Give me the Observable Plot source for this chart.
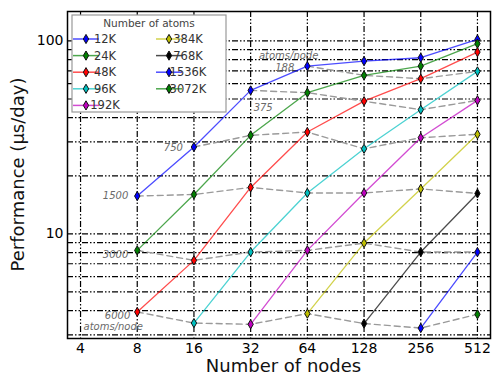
<!DOCTYPE html>
<html><head><meta charset="utf-8">
<script src="https://cdn.jsdelivr.net/npm/d3@7"></script>
<script src="https://cdn.jsdelivr.net/npm/@observablehq/plot@0.6"></script>
<style>body{margin:0;background:#fff;} svg{font-family:"DejaVu Sans",sans-serif;}</style>
</head><body><div id="chart"></div>
<script>
// ---- data ----
const nodeTicks = [4, 8, 16, 32, 64, 128, 256, 512];
const yTickLabels = [10, 100];
const yGrid = [3, 4, 5, 6, 7, 8, 9, 10, 20, 30, 40, 50, 60, 70, 80, 90, 100];
const atomLabels = ["12K", "24K", "48K", "96K", "192K", "384K", "768K", "1536K", "3072K"];
const atomCounts = [12000, 24000, 48000, 96000, 192000, 384000, 768000, 1536000, 3072000];
const firstNode = [8, 8, 8, 16, 32, 64, 128, 256, 512];
const colors = ["#0000ff", "#008000", "#ff0000", "#00bfbf", "#bf00bf", "#bfbf00", "#000000", "#0000ff", "#008000"];
const perf = [
  [15.7, 28.2, 55.4, 74.0, 78.6, 81.8, 101.8],
  [8.21, 16.0, 32.4, 53.9, 66.3, 74.0, 96.7],
  [3.94, 7.29, 17.4, 33.7, 48.7, 63.7, 87.5],
  [3.45, 8.05, 16.3, 27.6, 44.0, 69.5],
  [3.40, 8.21, 16.3, 31.5, 49.2],
  [3.86, 8.96, 17.1, 32.8],
  [3.43, 8.05, 16.2],
  [3.25, 8.05],
  [3.83]
];
const isoLevels = [188, 375, 750, 1500, 3000, 6000];

// ---- build table ----
const rows = [];
perf.forEach((vals, i) => vals.forEach((v, j) => {
  const n = firstNode[i] * 2 ** j;
  rows.push({series: atomLabels[i], color: colors[i], nodes: n, perf: v, apn: Math.round(atomCounts[i] / n)});
}));
const isoRows = rows.filter(d => isoLevels.includes(d.apn)).sort((a, b) => a.nodes - b.nodes);
const isoStart = isoLevels.map(l => isoRows.find(d => d.apn === l));
const lab = (l) => isoStart.filter(d => d.apn === l);

const W = 492, H = 379, mL = 67, mR = 2, mT = 11, mB = 41;
const gridStyle = {stroke: "black", strokeWidth: 1.2, strokeDasharray: "6,2,1.5,2,1.5,2"};
const isoText = {fill: "#6a6a6a", fontStyle: "italic", fontSize: 10};

const chart = Plot.plot({
  width: W, height: H,
  marginLeft: mL, marginRight: mR, marginTop: mT, marginBottom: mB,
  style: {fontFamily: "DejaVu Sans", background: "white"},
  x: {type: "log", base: 2, domain: [2 ** 1.77, 2 ** 9.23]},
  y: {type: "log", domain: [2.87, 142]},
  color: {type: "identity"},
  marks: [
    Plot.ruleY(yGrid, gridStyle),
    Plot.ruleX(nodeTicks, gridStyle),
    Plot.line(isoRows, {x: "nodes", y: "perf", z: "apn", stroke: "#9a9a9a", strokeWidth: 1.4, strokeDasharray: "6,4"}),
    Plot.line(rows, {x: "nodes", y: "perf", z: "series", stroke: "color", strokeOpacity: 0.7, strokeWidth: 1.3}),
    Plot.dot(rows, {x: "nodes", y: "perf", symbol: "diamond", r: 2.8, fill: "color", stroke: "#111", strokeWidth: 1}),
    Plot.text(lab(188), {x: "nodes", y: "perf", text: d => String(d.apn), textAnchor: "end", dx: -13, dy: 2, ...isoText}),
    Plot.text(lab(188), {x: "nodes", y: "perf", text: () => "atoms/node", textAnchor: "end", dx: 11, dy: -10, ...isoText}),
    Plot.text(lab(375), {x: "nodes", y: "perf", text: d => String(d.apn), textAnchor: "start", dx: 3, dy: 17, ...isoText}),
    Plot.text(lab(750), {x: "nodes", y: "perf", text: d => String(d.apn), textAnchor: "end", dx: -11, dy: 1, ...isoText}),
    Plot.text(lab(1500), {x: "nodes", y: "perf", text: d => String(d.apn), textAnchor: "end", dx: -9, dy: 0, ...isoText}),
    Plot.text(lab(3000), {x: "nodes", y: "perf", text: d => String(d.apn), textAnchor: "end", dx: -9, dy: 4, ...isoText}),
    Plot.text(lab(6000), {x: "nodes", y: "perf", text: d => String(d.apn), textAnchor: "end", dx: -7, dy: 4, ...isoText}),
    Plot.text(lab(6000), {x: "nodes", y: "perf", text: () => "atoms/node", textAnchor: "middle", dx: -24, dy: 15, ...isoText}),
    Plot.axisX(nodeTicks, {tickSize: 0, tickPadding: 5, fontSize: 14, tickFormat: d => String(d), label: null}),
    Plot.axisY(yTickLabels, {tickSize: 0, tickPadding: 4, fontSize: 14, tickFormat: d => String(d), label: null}),
    Plot.frame({stroke: "black", strokeWidth: 1.5})
  ]
});
document.getElementById("chart").appendChild(chart);

// ---- axis titles and legend ----
const svg = d3.select(chart);
svg.append("text").attr("x", mL + (W - mL - mR) / 2 + 5).attr("y", 372)
  .attr("text-anchor", "middle").attr("font-size", 18).attr("fill", "#111").text("Number of nodes");
svg.append("text").attr("transform", `translate(24,${mT + (H - mT - mB) / 2}) rotate(-90)`)
  .attr("text-anchor", "middle").attr("font-size", 18).attr("fill", "#111").text("Performance (µs/day)");

const lg = svg.append("g");
lg.append("rect").attr("x", 72).attr("y", 15).attr("width", 154).attr("height", 97)
  .attr("fill", "white").attr("stroke", "#999").attr("stroke-width", 1.2);
lg.append("text").attr("x", 149).attr("y", 27).attr("text-anchor", "middle")
  .attr("font-size", 10.5).attr("fill", "#444").text("Number of atoms");
const sym = d3.symbol(d3.symbolDiamond, Math.PI * 2.8 * 2.8);
atomLabels.forEach((t, i) => {
  const col = i < 5 ? 0 : 1, row = i < 5 ? i : i - 5;
  const x0 = col ? 156 : 73, y0 = 39 + row * 16.6;
  lg.append("line").attr("x1", x0).attr("x2", x0 + 26).attr("y1", y0).attr("y2", y0)
    .attr("stroke", colors[i]).attr("stroke-opacity", 0.7).attr("stroke-width", 1.5);
  lg.append("path").attr("d", sym()).attr("transform", `translate(${x0 + 13},${y0})`)
    .attr("fill", colors[i]).attr("stroke", "#111").attr("stroke-width", 1);
  lg.append("text").attr("x", x0 + 32).attr("y", y0 + 4).attr("font-size", 11.5).attr("fill", "#333").text(t);
});
</script></body></html>
